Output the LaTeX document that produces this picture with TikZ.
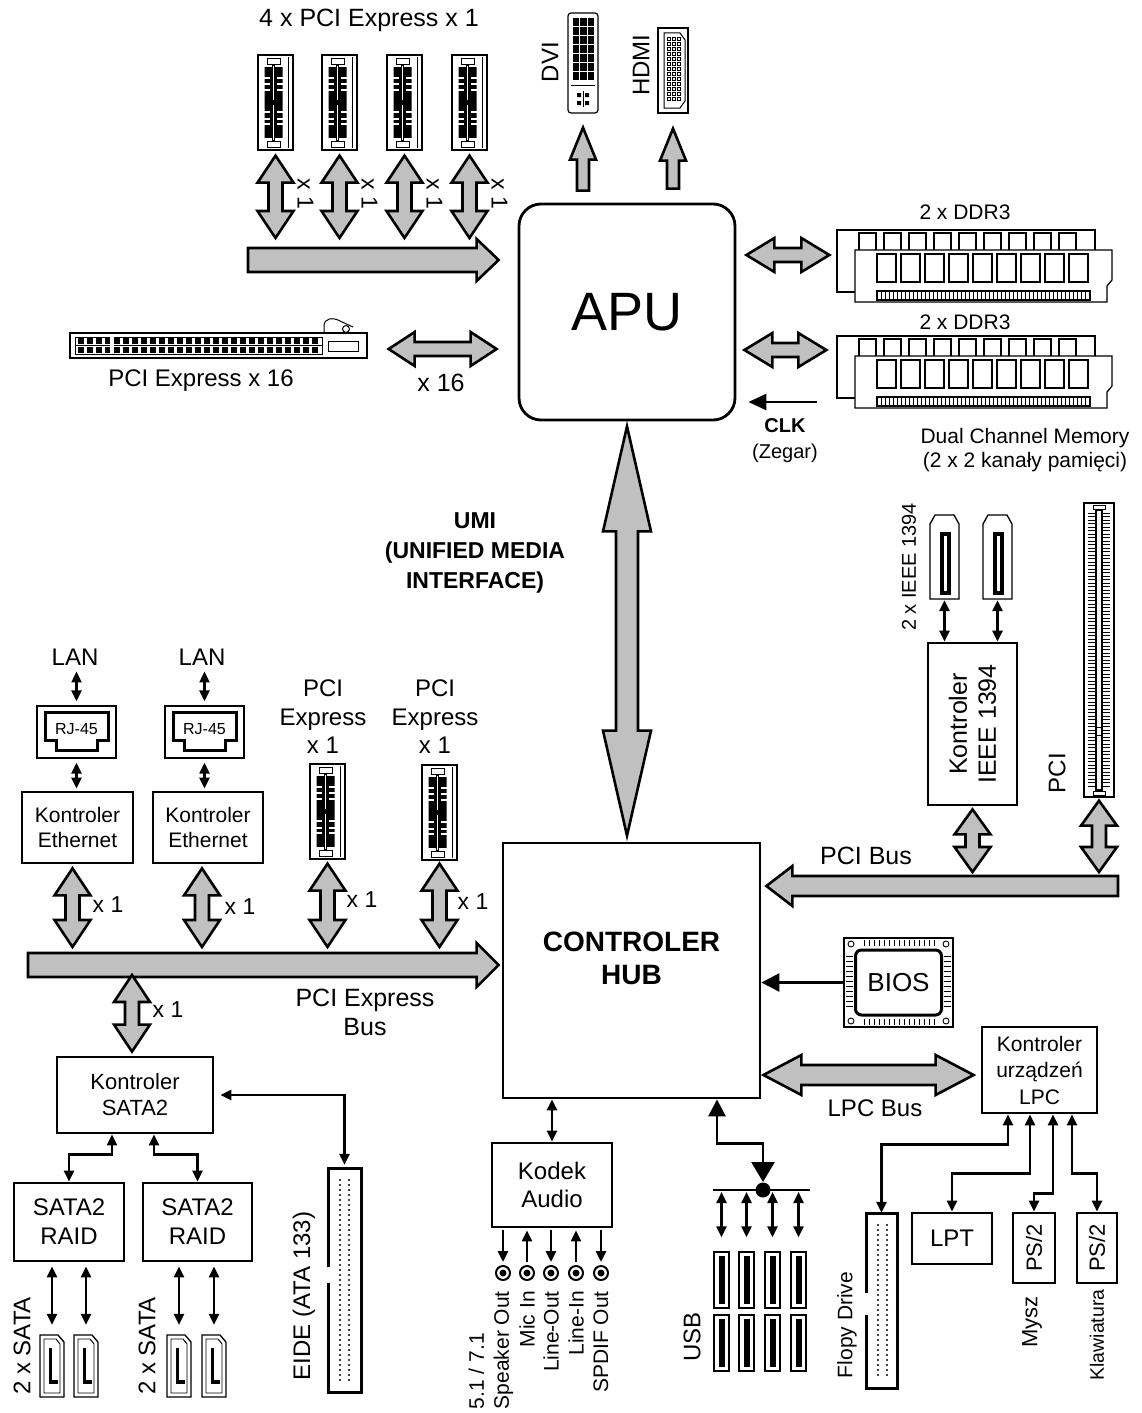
\documentclass[tikz,border=0pt]{standalone}
\usepackage{fontspec}
\setmainfont{Liberation Sans}
\usetikzlibrary{positioning,calc,arrows.meta}
\definecolor{busgray}{RGB}{192,192,192}

\tikzset{
  box/.style={draw,line width=2.8pt,inner sep=0pt,align=center,font=\fontsize{21}{25}\selectfont},
  lab/.style={inner sep=1pt,align=center,font=\fontsize{24}{29}\selectfont},
  xlab/.style={inner sep=0pt,font=\fontsize{23}{27}\selectfont},
  fatarrow/.style={draw,fill=busgray,line width=2.6pt,line join=miter},
  link/.style={line width=2.8pt,{Triangle[length=11pt,width=10pt]}-{Triangle[length=11pt,width=10pt]}},
  sig/.style={line width=2.8pt,-{Triangle[length=11pt,width=10pt]}},
  jack/.style={circle,draw,line width=2pt,minimum size=14pt,inner sep=0pt},
}

% fat grey arrows: #1 #2 ends, #3 half shaft, #4 half head, #5 head length
\newcommand{\busV}[5]{%
  \filldraw[fatarrow] let \p1=#1, \p2=#2 in
    (\x1,\y1) -- (\x1+#4pt,\y1-#5pt) -- (\x1+#3pt,\y1-#5pt) -- (\x1+#3pt,\y2+#5pt) --
    (\x1+#4pt,\y2+#5pt) -- (\x1,\y2) -- (\x1-#4pt,\y2+#5pt) -- (\x1-#3pt,\y2+#5pt) --
    (\x1-#3pt,\y1-#5pt) -- (\x1-#4pt,\y1-#5pt) -- cycle;}
\newcommand{\busH}[5]{%
  \filldraw[fatarrow] let \p1=#1, \p2=#2 in
    (\x1,\y1) -- (\x1+#5pt,\y1+#4pt) -- (\x1+#5pt,\y1+#3pt) -- (\x2-#5pt,\y1+#3pt) --
    (\x2-#5pt,\y1+#4pt) -- (\x2,\y1) -- (\x2-#5pt,\y1-#4pt) -- (\x2-#5pt,\y1-#3pt) --
    (\x1+#5pt,\y1-#3pt) -- (\x1+#5pt,\y1-#4pt) -- cycle;}
\newcommand{\busR}[5]{%
  \filldraw[fatarrow] let \p1=#1, \p2=#2 in
    (\x2,\y1) -- (\x2-#5pt,\y1+#4pt) -- (\x2-#5pt,\y1+#3pt) -- (\x1,\y1+#3pt) --
    (\x1,\y1-#3pt) -- (\x2-#5pt,\y1-#3pt) -- (\x2-#5pt,\y1-#4pt) -- cycle;}
\newcommand{\busL}[5]{%
  \filldraw[fatarrow] let \p1=#1, \p2=#2 in
    (\x2,\y1) -- (\x2+#5pt,\y1+#4pt) -- (\x2+#5pt,\y1+#3pt) -- (\x1,\y1+#3pt) --
    (\x1,\y1-#3pt) -- (\x2+#5pt,\y1-#3pt) -- (\x2+#5pt,\y1-#4pt) -- cycle;}
\newcommand{\busUp}[5]{%
  \filldraw[fatarrow] let \p1=#1, \p2=#2 in
    (\x1,\y2) -- (\x1+#4pt,\y2-#5pt) -- (\x1+#3pt,\y2-#5pt) -- (\x1+#3pt,\y1) --
    (\x1-#3pt,\y1) -- (\x1-#3pt,\y2-#5pt) -- (\x1-#4pt,\y2-#5pt) -- cycle;}

% PCIe x1 slot, top left corner at (#2,#3)
\newcommand{\pcieslot}[3]{%
  \node[draw,line width=1.3pt,inner sep=0,minimum width=35,minimum height=95] (#1) at (#2+17.5,#3+47.5) {};
  \begin{scope}[shift={(#2,#3)}]
    \draw[line width=.9pt] (30,2) -- (30,93);
    \draw[line width=.9pt] (9,3) rectangle (22,9) (9,86) rectangle (22,92);
    \fill (4,12) rectangle (27,83);
    \fill[white] (14,10) rectangle (16.5,85);
    \draw[line width=.7pt] (14,10) rectangle (16.5,85);
    \foreach \yy in {22,27.5,34,56,62.5,68} {
      \fill[white] (4,\yy) rectangle (12,\yy+2.2);
      \fill[white] (18.5,\yy) rectangle (27,\yy+2.2);}
    \fill[white] (4,12) rectangle (6.5,83) (24.5,12) rectangle (27,83);
    \fill (12,45) rectangle (18.5,50);
  \end{scope}}

% DDR3 pair, top left corner at (#2,#3)
\newcommand{\ddrmod}[3]{%
  \begin{scope}[shift={(#2,#3)},line width=1.3pt]
    \node[inner sep=0,minimum width=275,minimum height=72] (#1) at (137.5,36) {};
    \draw[fill=white] (0,0) rectangle (258,62);
    \foreach \i in {0,...,8} \draw (22+\i*25,3) rectangle ++(17,20);
    \draw[fill=white] (18,20) -- (275,20) -- (275,50) -- (270,56) -- (270,72) -- (18,72) -- cycle;
    \foreach \i in {0,...,8} \draw (40+\i*24,24) rectangle ++(19,28);
    \draw (40,61) rectangle (253,70);
    \foreach \xx in {44,48,...,250} \draw[line width=.7pt] (\xx,61) -- (\xx,70);
  \end{scope}}

% IEEE 1394 socket
\newcommand{\fwport}[3]{%
  \node[inner sep=0,minimum width=29,minimum height=84] (#1) at (#2+14.5,#3+42) {};
  \begin{scope}[shift={(#2,#3)}]
    \draw[line width=1.3pt] (5,0) -- (24,0) -- (29,9) -- (29,84) -- (0,84) -- (0,9) -- cycle;
    \draw[line width=4pt] (12,19) rectangle (19,78);
  \end{scope}}

% SATA socket
\newcommand{\sataport}[3]{%
  \node[inner sep=0,minimum width=24,minimum height=62] (#1) at (#2+12,#3+31) {};
  \begin{scope}[shift={(#2,#3)}]
    \draw[line width=1.3pt] (0,0) -- (18,0) -- (24,7) -- (24,62) -- (0,62) -- cycle;
    \draw[line width=.9pt] (4,4) -- (16,4) -- (20,9) -- (20,58) -- (4,58) -- cycle;
    \draw[line width=3.5pt] (10.5,13) -- (10.5,47) -- (18,47);
  \end{scope}}

% USB socket
\newcommand{\usbport}[3]{%
  \node[draw,line width=1.3pt,inner sep=0,minimum width=15,minimum height=56] (#1) at (#2+7.5,#3+28) {};
  \fill (#2+4.5,#3+4) rectangle (#2+10.5,#3+52);}

% RJ-45 socket
\newcommand{\rjport}[3]{%
  \node[draw,line width=1.3pt,inner sep=0,minimum width=79,minimum height=52] (#1) at (#2+39.5,#3+26) {};
  \begin{scope}[shift={(#2,#3)}]
    \draw[line width=3pt] (8,6) -- (71,6) -- (71,34) -- (60,34) -- (60,44) -- (19,44) -- (19,34) -- (8,34) -- cycle;
    \node[inner sep=0,font=\fontsize{16}{18}\selectfont] (#1t) at (39.5,23) {RJ-45};
  \end{scope}}

% pin header (EIDE, floppy): name, x, y, width, height, notch top, notch bottom
\newcommand{\pinheader}[7]{%
  \node[inner sep=0,minimum width=#4,minimum height=#5] (#1) at (#2+#4/2,#3+#5/2) {};
  \begin{scope}[shift={(#2,#3)}]
    \draw[line width=3pt] (0,#6) -- (0,0) -- (#4,0) -- (#4,#5) -- (0,#5) -- (0,#7);
    \pgfmathsetmacro{\pinend}{#5-12}
    \foreach \yy in {12,17,...,\pinend} {\fill (12,\yy) circle (1.1); \fill (21,\yy) circle (1.1);}
  \end{scope}}

% PCI slot, vertical
\newcommand{\pciv}[3]{%
  \node[draw,line width=1.3pt,inner sep=0,minimum width=30,minimum height=294] (#1) at (#2+15,#3+147) {};
  \begin{scope}[shift={(#2,#3)}]
    \draw[line width=.9pt] (9,2) rectangle (21,6) (9,288) rectangle (21,292);
    \draw[line width=1.5pt] (12,7) rectangle (18,287);
    \foreach \yy in {10,13.5,...,284} \draw[line width=.8pt] (4,\yy) -- (12,\yy) (18,\yy) -- (26,\yy);
    \fill[white] (13,224) rectangle (17,232);
    \draw[line width=.8pt] (12,224) -- (18,224) (12,232) -- (18,232);
  \end{scope}}

\begin{document}
\begin{tikzpicture}[x=1pt,y=-1pt]
\useasboundingbox (0,0) rectangle (1141,1413);

% APU and controller hub
\node[box,rounded corners=22pt,minimum size=216] (apu) at (627,312) {\fontsize{54}{60}\selectfont APU};
\node[box,minimum width=257,minimum height=255] (hub) at (631.5,970.5) {};
\node[font=\bfseries\fontsize{28}{33}\selectfont,align=center] (hubtxt) at ([yshift=12pt]hub.center) {CONTROLER\\HUB};

\pcieslot{px1}{258}{55}
\pcieslot{px2}{322}{55}
\pcieslot{px3}{387}{55}
\pcieslot{px4}{452}{55}
\node[lab,font=\fontsize{25}{30}\selectfont] (pcix4) at (369,20) {4 x PCI Express x 1};
\coordinate (bustopL) at (248,260);
\busR{(bustopL)}{([xshift=-19pt]apu.west |- bustopL)}{12}{21}{22}
\foreach \s in {px1,px2,px3,px4} {
  \busV{([yshift=-5pt]\s.south)}{([yshift=22pt]\s.south |- bustopL)}{7}{18}{27}
  \node[xlab,rotate=-90] (x\s) at ([xshift=30pt,yshift=-43pt]\s.south) {x 1};
}

\node[draw,line width=1.2pt,rounded corners=3pt,inner sep=0,minimum width=30,minimum height=100] (dvi) at (583,63) {};
\begin{scope}[shift={(568,13)}]
  \foreach \c in {0,1,2} \foreach \r in {0,...,6} \fill (5+\c*7.3,5+\r*9) rectangle ++(6.3,7.8);
  \draw[line width=.8pt] (3,72) -- (27,72);
  \fill (9,80) rectangle ++(4,4) (17,80) rectangle ++(4,4) (9,88) rectangle ++(4,4) (17,88) rectangle ++(4,4);
  \draw[line width=.8pt] (15,78) -- (15,94);
\end{scope}
\node[lab,rotate=90] (dvilab) at (550,62) {DVI};
\node[draw,line width=1.2pt,inner sep=0,minimum width=30,minimum height=85] (hdmi) at (673,70.5) {};
\begin{scope}[shift={(658,28)}]
  \draw[line width=1pt] (6,5) -- (22,5) -- (27,12) -- (27,73) -- (22,80) -- (6,80) -- cycle;
  \foreach \r in {0,...,12} \foreach \c in {0,1,2} \draw[line width=.6pt] (9+\c*5,9+\r*5) rectangle ++(3.5,3.5);
\end{scope}
\node[lab,rotate=90] (hdmilab) at (641,65) {HDMI};
\busUp{([yshift=12pt]apu.north -| dvi)}{([yshift=-14pt]dvi.south)}{6}{13}{32}
\busUp{([yshift=14pt]apu.north -| hdmi)}{([yshift=-15pt]hdmi.south)}{6}{13}{32}

% PCIe x16
\node[draw,line width=1.3pt,inner sep=0,minimum width=297,minimum height=25] (x16) at (218.5,345.5) {};
\begin{scope}[shift={(70,333)}]
  \draw[line width=.8pt] (5,4) rectangle (252,21);
  \foreach \i in {0,...,26} {\fill (8+\i*9,5) rectangle ++(6,6); \fill (8+\i*9,14) rectangle ++(6,6);}
  \draw[line width=.6pt] (5,12.5) -- (252,12.5);
  \fill[white] (40,4) rectangle (44,21);
  \draw[line width=.8pt] (258,8) rectangle (288,18);
  \draw[line width=1pt] (254,0) -- (254,-7) .. controls (254,-15) and (263,-16) .. (270,-12) -- (283,-6);
  \draw[line width=1pt] (276,-4) circle (3.5);
\end{scope}
\node[lab] (x16lab) at (201,381) {PCI Express x 16};
\busH{([xshift=21pt,yshift=-3.5pt]x16.east)}{([xshift=-21pt]apu.west |- x16.east)}{7}{17}{26}
\node[lab,font=\fontsize{25}{30}\selectfont] (x16x) at (441,383) {x 16};

% memory
\ddrmod{ddr1}{837}{230}
\ddrmod{ddr2}{837}{336}
\node[lab,font=\fontsize{21}{25}\selectfont] (ddr1lab) at (965,212) {2 x DDR3};
\node[lab,font=\fontsize{21}{25}\selectfont] (ddr2lab) at (965,322) {2 x DDR3};
\busH{([xshift=10pt,yshift=11pt]apu.east |- ddr1.west)}{([xshift=-7pt,yshift=11pt]ddr1.west)}{7}{17}{28}
\busH{([xshift=8pt,yshift=22pt]apu.east |- ddr2.west)}{([xshift=-10pt,yshift=22pt]ddr2.west)}{7}{17}{28}
\coordinate (clk) at (817,402);
\draw[line width=2.8pt,-{Triangle[length=18pt,width=16pt]}] (clk) -- ([xshift=12pt]apu.east |- clk);
\node[lab,font=\bfseries\fontsize{20}{24}\selectfont] (clklab) at (785,426) {CLK};
\node[lab,font=\fontsize{20}{24}\selectfont] (zegar) at (785,453) {(Zegar)};
\node[lab,font=\fontsize{21}{24}\selectfont] (dual) at (1025,450) {Dual Channel Memory\\(2 x 2 kanały pamięci)};

% UMI
\node[lab,font=\bfseries\fontsize{23}{30}\selectfont] (umi) at (475,553) {UMI\\(UNIFIED MEDIA\\INTERFACE)};
\busV{([yshift=-5pt]apu.south)}{([yshift=6pt]apu.south |- hub.north)}{11}{24}{105}

% PCI bus
\coordinate (pciR) at (1118,886);
\busL{(pciR)}{([xshift=5pt]hub.east |- pciR)}{10}{20}{26}
\node[lab,font=\fontsize{25}{30}\selectfont] (pcibus) at (866,856) {PCI Bus};
\node[box,minimum width=89,minimum height=162] (ieee) at (972.5,724) {};
\node[rotate=90,align=center,font=\fontsize{25}{29}\selectfont] (ieeetxt) at (ieee) {Kontroler\\IEEE 1394};
\fwport{fw1}{930}{515}
\fwport{fw2}{983}{515}
\node[lab,rotate=90,font=\fontsize{20}{24}\selectfont] (fwlab) at (909,567) {2 x IEEE 1394};
\draw[link] ([yshift=-1pt]fw1.south) -- (fw1.south |- ieee.north);
\draw[link] ([yshift=-1pt]fw2.south) -- (fw2.south |- ieee.north);
\pciv{pci}{1084}{503}
\node[lab,rotate=90] (pcilab) at (1057,773) {PCI};
\busV{([yshift=-3pt]ieee.south)}{([yshift=14pt]ieee.south |- pciR)}{7}{18}{25}
\busV{([yshift=-3pt]pci.south)}{([yshift=14pt]pci.south |- pciR)}{7}{18}{25}

% BIOS
\node[draw,line width=1.2pt,inner sep=0,minimum width=109,minimum height=89] (bios) at (898.5,982.5) {};
\node[draw,line width=3pt,rounded corners=6pt,inner sep=0,minimum width=86,minimum height=65,font=\fontsize{26}{30}\selectfont] (biosin) at (bios.center) {BIOS};
\foreach \xx in {864,869,...,934} \draw[line width=.9pt] (\xx,940) -- (\xx,946) (\xx,1019) -- (\xx,1025);
\foreach \yy in {956,961,...,1008} \draw[line width=.9pt] (846,\yy) -- (853,\yy) (944,\yy) -- (951,\yy);
\foreach \xx/\yy in {851/944,946/944,851/1021,946/1021} \draw[line width=.9pt] (\xx,\yy) circle (3);
\draw[line width=2.8pt,-{Triangle[length=18pt,width=18pt]}] (bios.west) -- (bios.west -| hub.east);

% LPC
\node[box,minimum width=115,minimum height=86,font=\fontsize{21}{26.5}\selectfont] (lpc) at (1039.5,1070) {Kontroler\\urządzeń\\LPC};
\busH{([xshift=2pt,yshift=-5pt]hub.east |- lpc.west)}{([xshift=-7pt,yshift=-5pt]lpc.west)}{10}{20}{38}
\node[lab] (lpcbus) at (875,1108) {LPC Bus};

% Ethernet and PCIe x1 on the south bridge
\node[lab] (lan1) at (75,657) {LAN};
\node[lab] (lan2) at (202,657) {LAN};
\rjport{rj1}{37}{706}
\rjport{rj2}{165}{706}
\node[box] (eth1) at (77.5,827.5) [minimum width=111,minimum height=71] {Kontroler\\Ethernet};
\node[box] (eth2) at (208,827.5) [minimum width=110,minimum height=71] {Kontroler\\Ethernet};
\foreach \n in {1,2} {
  \draw[link,line width=2.2pt] ([yshift=-5pt]rj\n.north |- lan\n.south) -- ([yshift=4pt]rj\n.north);
  \draw[link,line width=2.2pt] ([yshift=-4pt]rj\n.south) -- ([yshift=2pt]rj\n.south |- eth\n.north);
}
\pcieslot{pm1}{310}{764}
\pcieslot{pm2}{422}{765}
\node[lab,font=\fontsize{24}{28.5}\selectfont] (pm1lab) at (323,717) {PCI\\Express\\x 1};
\node[lab,font=\fontsize{24}{28.5}\selectfont] (pm2lab) at (435,717) {PCI\\Express\\x 1};
\coordinate (pcieL) at (28,965);
\busR{(pcieL)}{([xshift=-3pt]hub.west |- pcieL)}{12}{22}{22}
\busV{([xshift=-5pt,yshift=-4pt]eth1.south)}{([xshift=-5pt,yshift=18pt]eth1.south |- pcieL)}{7}{18}{27}
\busV{([xshift=-6pt,yshift=-4pt]eth2.south)}{([xshift=-6pt,yshift=18pt]eth2.south |- pcieL)}{7}{18}{27}
\busV{([yshift=-4pt]pm1.south)}{([yshift=18pt]pm1.south |- pcieL)}{7}{18}{27}
\busV{([yshift=-3pt]pm2.south)}{([yshift=18pt]pm2.south |- pcieL)}{7}{18}{27}
\node[xlab] (xeth1) at (108,905) {x 1};
\node[xlab] (xeth2) at (240,907) {x 1};
\node[xlab] (xpm1) at (362,900) {x 1};
\node[xlab] (xpm2) at (473,902) {x 1};
\node[lab,font=\fontsize{25}{29}\selectfont] (pciebus) at (365,1012) {PCI Express\\Bus};

% SATA and EIDE
\node[box,font=\fontsize{22}{26}\selectfont] (sata) at (135,1095) [minimum width=156,minimum height=76] {Kontroler\\SATA2};
\busV{([xshift=-3pt,yshift=-10pt]sata.north |- pcieL)}{([xshift=-3pt,yshift=4pt]sata.north)}{7}{18}{27}
\node[xlab] (xsata) at (168,1010) {x 1};
\pinheader{eide}{328}{1168}{33}{224}{99}{115}
\draw[link] ([xshift=6pt]sata.east) -| ([yshift=3pt]eide.north);
\node[lab] (eidelab) at (304,1296) [rotate=90] {EIDE (ATA 133)};
\node[box,font=\fontsize{24}{29}\selectfont] (raid1) at (69,1222) [minimum width=110,minimum height=78] {SATA2\\RAID};
\node[box,font=\fontsize{24}{29}\selectfont] (raid2) at (197.5,1222) [minimum width=109,minimum height=78] {SATA2\\RAID};
\draw[link] ([xshift=-23pt]sata.south) -- ++(0,20) -| (raid1.north);
\draw[link] ([xshift=19pt]sata.south) -- ++(0,20) -| (raid2.north);
\sataport{sp1}{40}{1335}
\sataport{sp2}{74}{1335}
\sataport{sp3}{167}{1335}
\sataport{sp4}{202}{1335}
\draw[link] ([yshift=-4pt]sp1.north |- raid1.south) -- ([yshift=10pt]sp1.north);
\draw[link] ([yshift=-4pt]sp2.north |- raid1.south) -- ([yshift=10pt]sp2.north);
\draw[link] ([yshift=-4pt]sp3.north |- raid2.south) -- ([yshift=10pt]sp3.north);
\draw[link] ([yshift=-4pt]sp4.north |- raid2.south) -- ([yshift=10pt]sp4.north);
\node[lab,rotate=90] (sat1lab) at (22,1346) {2 x SATA};
\node[lab,rotate=90] (sat2lab) at (147,1346) {2 x SATA};

% audio
\node[box,font=\fontsize{24}{28}\selectfont] (kodek) at (552,1185) [minimum width=120,minimum height=84] {Kodek\\Audio};
\draw[link] (kodek.north |- hub.south) -- (kodek.north);
\foreach \j/\xx in {j1/503,j2/527,j3/551,j4/576,j5/601} {
  \node[jack] (\j) at (\xx,1273) {};
  \fill (\j) circle (3.5);
}
\foreach \j in {j1,j3,j5} \draw[sig] ([yshift=-2pt]\j |- kodek.south) -- ([yshift=3pt]\j.north);
\foreach \j in {j2,j4} \draw[sig] ([yshift=3pt]\j.north) -- ([yshift=-2pt]\j |- kodek.south);
\node[lab,rotate=90,anchor=east,align=left,font=\fontsize{21}{25}\selectfont] (spk) at (491,1290) {5.1 / 7.1\\Speaker Out};
\node[lab,rotate=90,anchor=east,font=\fontsize{21}{25}\selectfont] (mic) at (527,1290) {Mic In};
\node[lab,rotate=90,anchor=east,font=\fontsize{21}{25}\selectfont] (lout) at (551,1290) {Line-Out};
\node[lab,rotate=90,anchor=east,font=\fontsize{21}{25}\selectfont] (lin) at (576,1290) {Line-In};
\node[lab,rotate=90,anchor=east,font=\fontsize{21}{25}\selectfont] (spdif) at (601,1290) {SPDIF Out};

% USB
\coordinate (usbhub) at (763,1190);
\draw[line width=2.8pt,{Triangle[length=17pt,width=17pt]}-{Triangle[length=20pt,width=23pt]}]
  ([xshift=-46pt]hub.south -| usbhub) -- ++(0,44) -| ([yshift=8pt]usbhub);
\fill (usbhub) circle (7.5);
\draw[line width=2.8pt] ([xshift=-50pt]usbhub) -- ([xshift=47pt]usbhub);
\usbport{u1}{714}{1252}
\usbport{u2}{739}{1252}
\usbport{u3}{765}{1252}
\usbport{u4}{791}{1252}
\usbport{u5}{714}{1315}
\usbport{u6}{739}{1315}
\usbport{u7}{765}{1315}
\usbport{u8}{791}{1315}
\foreach \u in {u1,u2,u3,u4} \draw[link,line width=2.4pt] ([yshift=-2pt]\u.north |- usbhub) -- ([yshift=14pt]\u.north);
\node[lab,rotate=90] (usblab) at (692,1337) {USB};

% LPC devices
\pinheader{floppy}{866}{1213}{31}{175}{80}{102}
\node[box,font=\fontsize{24}{28}\selectfont] (lpt) at (952,1238.5) [minimum width=80,minimum height=51] {LPT};
\node[box] (ps2a) at (1034,1248) [minimum width=42,minimum height=70] {};
\node[box] (ps2b) at (1097,1248) [minimum width=40,minimum height=70] {};
\node[rotate=90,font=\fontsize{22}{26}\selectfont] (ps2atxt) at (ps2a) {PS/2};
\node[rotate=90,font=\fontsize{22}{26}\selectfont] (ps2btxt) at (ps2b) {PS/2};
\node[lab,rotate=90,font=\fontsize{22}{26}\selectfont] (mysz) at (1032,1322) {Mysz};
\node[lab,rotate=90,font=\fontsize{19.5}{23}\selectfont] (klaw) at (1097,1335) {Klawiatura};
\node[lab,rotate=90,font=\fontsize{21}{25}\selectfont] (flopy) at (847,1325) {Flopy Drive};
\draw[link] ([xshift=-31.5pt]lpc.south) -- ++(0,30) -| (floppy.north);
\draw[link] ([xshift=-9.5pt]lpc.south) -- ++(0,59) -| (lpt.north);
\draw[link] ([xshift=13.5pt]lpc.south) -- ++(0,79) -| (ps2a.north);
\draw[link] ([xshift=32.5pt]lpc.south) -- ++(0,59) -| (ps2b.north);
\end{tikzpicture}
\end{document}
